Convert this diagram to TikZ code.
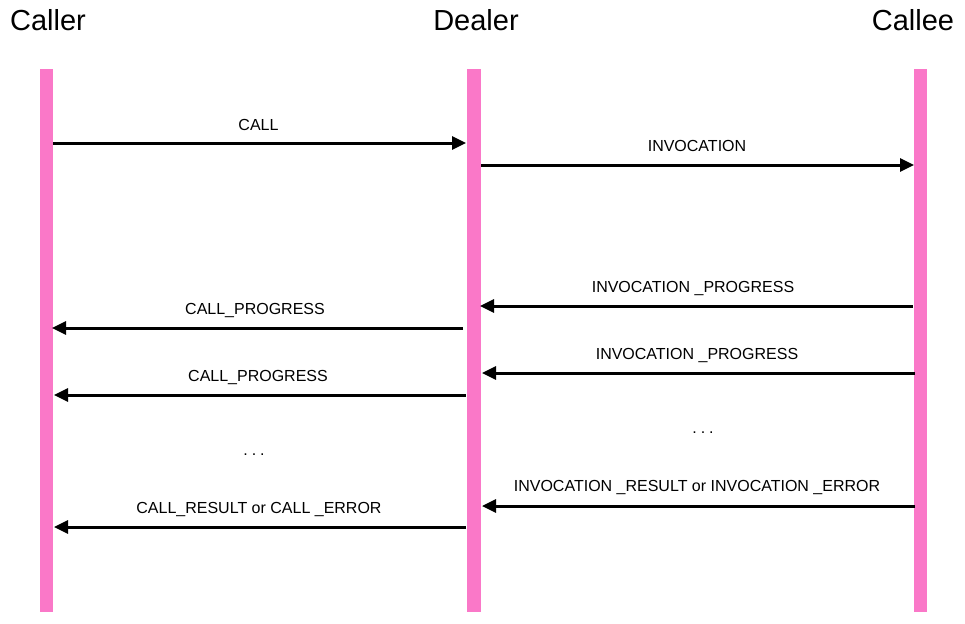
\documentclass[tikz,border=0pt]{standalone}
\usepackage{fontspec}
\setmainfont{Liberation Sans}
\usetikzlibrary{arrows.meta}
\definecolor{lifepink}{RGB}{250,120,200}
\tikzset{
  lifeline/.style={fill=lifepink, draw=none},
  title/.style={font=\fontsize{29}{32}\selectfont, anchor=base, inner sep=0pt},
  msg/.style={line width=3pt, -{Triangle[length=14pt,width=13pt]}},
  msglabel/.style={font=\fontsize{16}{18}\selectfont, anchor=base, inner sep=0pt},
}
\begin{document}
\begin{tikzpicture}[x=1pt,y=-1pt]
\useasboundingbox (0,0) rectangle (965,623);
% lifelines
\fill[lifeline] (39.5,69) rectangle (53,612);
\fill[lifeline] (467,69) rectangle (481,612);
\fill[lifeline] (913.5,69) rectangle (927,612);
% titles
\node[title] (caller) at (48,31) {Caller};
\node[title] (dealer) at (476,31) {Dealer};
\node[title] (callee) at (913,31) {Callee};
% message end points
\coordinate (a1) at (53,143);  \coordinate (b1) at (466,143);
\coordinate (a2) at (481,165); \coordinate (b2) at (914,165);
\coordinate (a3) at (913,306); \coordinate (b3) at (480,306);
\coordinate (a4) at (463,328); \coordinate (b4) at (52,328);
\coordinate (a5) at (915,373); \coordinate (b5) at (482,373);
\coordinate (a6) at (466,395); \coordinate (b6) at (54,395);
\coordinate (a7) at (915,506); \coordinate (b7) at (482,506);
\coordinate (a8) at (466,527); \coordinate (b8) at (54,527);
% messages
\draw[msg] (a1) -- (b1);
\draw[msg] (a2) -- (b2);
\draw[msg] (a3) -- (b3);
\draw[msg] (a4) -- (b4);
\draw[msg] (a5) -- (b5);
\draw[msg] (a6) -- (b6);
\draw[msg] (a7) -- (b7);
\draw[msg] (a8) -- (b8);
% labels
\node[msglabel] (l1) at (258.5,130) {CALL};
\node[msglabel] (l2) at (697,151) {INVOCATION};
\node[msglabel] (l3) at (693,292) {INVOCATION \_PROGRESS};
\node[msglabel] (l4) at (255,314) {CALL\_PROGRESS};
\node[msglabel] (l5) at (697,359) {INVOCATION \_PROGRESS};
\node[msglabel] (l6) at (258,381) {CALL\_PROGRESS};
\node[msglabel] (l7) at (697,491) {INVOCATION \_RESULT or INVOCATION \_ERROR};
\node[msglabel] (l8) at (259,513) {CALL\_RESULT or CALL \_ERROR};
\node[msglabel] (d1) at (254,455) {.\hspace{4pt}.\hspace{4pt}.};
\node[msglabel] (d2) at (703,433) {.\hspace{4pt}.\hspace{4pt}.};
\end{tikzpicture}
\end{document}
